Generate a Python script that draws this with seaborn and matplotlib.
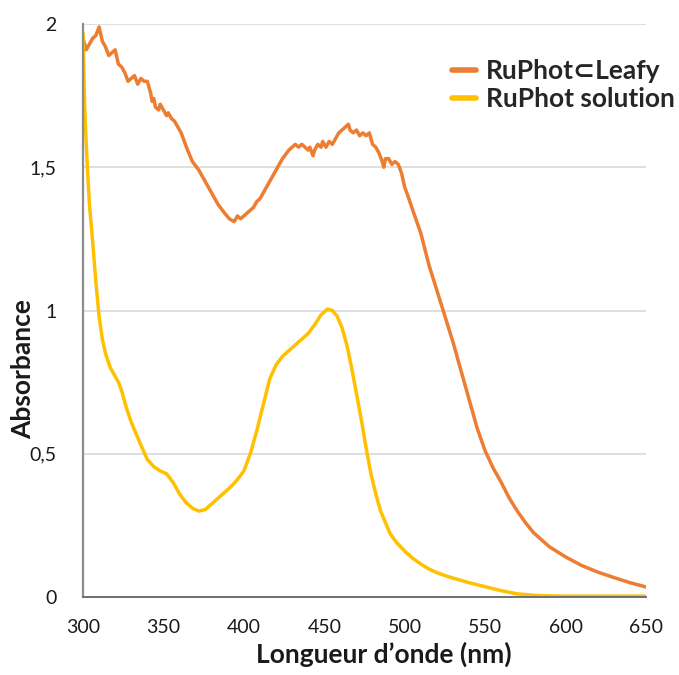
import pandas as pd
import seaborn as sns
import matplotlib.pyplot as plt
from matplotlib.ticker import FuncFormatter

# spectra (wavelength in nm, absorbance)
leafy_wl = [300, 302, 304, 306, 308, 310, 312, 314, 316, 318, 320, 322, 324, 326, 328,
            330, 332, 334, 336, 338, 340, 341, 342, 343, 344, 345, 347, 348, 350, 352,
            353, 355, 357, 359, 361, 363, 365, 368, 372, 376, 380, 384, 388, 391, 394,
            396, 398, 400, 402, 404, 406, 408, 410, 412, 416, 420, 424, 428, 430, 432,
            434, 436, 438, 440, 441, 443, 444, 446, 448, 449, 451, 453, 455, 457, 459,
            461, 463, 465, 466, 468, 470, 472, 474, 476, 478, 480, 482, 484, 486, 487,
            488, 490, 492, 494, 496, 498, 500, 502, 505, 510, 515, 520, 525, 530, 535,
            540, 545, 550, 555, 560, 565, 570, 575, 580, 585, 590, 600, 605, 610, 620,
            630, 640, 650]
leafy_abs = [1.95, 1.91, 1.93, 1.95, 1.96, 1.99, 1.94, 1.92, 1.89, 1.90, 1.91, 1.86,
             1.85, 1.83, 1.80, 1.81, 1.82, 1.79, 1.81, 1.80, 1.80, 1.78, 1.76, 1.73,
             1.74, 1.71, 1.70, 1.72, 1.70, 1.68, 1.69, 1.67, 1.66, 1.64, 1.62, 1.59,
             1.56, 1.52, 1.49, 1.45, 1.41, 1.37, 1.34, 1.32, 1.31, 1.33, 1.32, 1.33,
             1.34, 1.35, 1.36, 1.38, 1.39, 1.41, 1.45, 1.49, 1.53, 1.56, 1.57, 1.58,
             1.57, 1.58, 1.57, 1.56, 1.57, 1.54, 1.56, 1.58, 1.57, 1.59, 1.57, 1.59,
             1.58, 1.60, 1.62, 1.63, 1.64, 1.65, 1.63, 1.62, 1.63, 1.61, 1.62, 1.61,
             1.62, 1.58, 1.57, 1.55, 1.52, 1.50, 1.53, 1.53, 1.51, 1.52, 1.51, 1.48,
             1.43, 1.40, 1.35, 1.27, 1.16, 1.07, 0.98, 0.89, 0.79, 0.69, 0.59, 0.51,
             0.45, 0.40, 0.345, 0.30, 0.26, 0.225, 0.20, 0.175, 0.14, 0.125, 0.11,
             0.087, 0.068, 0.05, 0.035]

sol_wl = [300, 301, 302, 303, 304, 306, 308, 310, 312, 314, 317, 320, 322, 324, 327,
          330, 333, 336, 340, 344, 348, 352, 356, 360, 364, 368, 372, 376, 380, 384,
          388, 392, 396, 400, 404, 408, 412, 416, 420, 424, 428, 432, 436, 440, 444,
          448, 452, 455, 458, 461, 464, 467, 470, 473, 476, 479, 482, 485, 488, 491,
          495, 500, 505, 510, 515, 520, 525, 530, 540, 550, 560, 570, 580, 590, 600,
          650]
sol_abs = [1.97, 1.72, 1.58, 1.47, 1.37, 1.24, 1.10, 0.98, 0.90, 0.85, 0.80, 0.77,
           0.75, 0.72, 0.66, 0.61, 0.57, 0.53, 0.48, 0.455, 0.44, 0.43, 0.40, 0.36,
           0.33, 0.31, 0.30, 0.305, 0.325, 0.345, 0.365, 0.385, 0.41, 0.44, 0.50,
           0.58, 0.67, 0.76, 0.81, 0.84, 0.86, 0.88, 0.90, 0.92, 0.95, 0.985, 1.005,
           1.00, 0.98, 0.94, 0.88, 0.80, 0.71, 0.62, 0.52, 0.43, 0.36, 0.30, 0.26,
           0.22, 0.19, 0.16, 0.135, 0.115, 0.098, 0.085, 0.075, 0.066, 0.050, 0.036,
           0.022, 0.011, 0.006, 0.004, 0.003, 0.003]

series = ['RuPhot\u2282Leafy', 'RuPhot solution']
colors = {'RuPhot\u2282Leafy': '#ED7D31', 'RuPhot solution': '#FFC000'}

df = pd.concat([
    pd.DataFrame({'wl': leafy_wl, 'abs': leafy_abs, 'sample': series[0]}),
    pd.DataFrame({'wl': sol_wl, 'abs': sol_abs, 'sample': series[1]}),
])

sns.set_style('white')
plt.rcParams['font.family'] = ['Lato', 'DejaVu Sans']

fig = plt.figure(figsize=(6.79, 6.75), dpi=100)
ax = fig.add_axes([83 / 679, 1 - 597 / 675, 563 / 679, 573 / 675])

sns.lineplot(data=df, x='wl', y='abs', hue='sample', hue_order=series,
             palette=colors, linewidth=2.5, sort=False, ax=ax)

ax.set_xlim(300, 650)
ax.set_ylim(0, 2)
ax.set_xticks(range(300, 651, 50))
ax.set_yticks([0, 0.5, 1, 1.5, 2])
ax.yaxis.set_major_formatter(FuncFormatter(lambda v, p: ('%g' % v).replace('.', ',')))
ax.tick_params(axis='both', length=0, labelsize=14, colors='#1a1a1a')
ax.tick_params(axis='y', pad=19)
ax.tick_params(axis='x', pad=16)

ax.grid(axis='y', color='#d9d9d9', linewidth=1.2)
ax.grid(axis='x', visible=False)
for s in ['top', 'right']:
    ax.spines[s].set_visible(False)
ax.spines['left'].set_color('#8c8c8c')
ax.spines['left'].set_linewidth(1.6)
ax.spines['bottom'].set_color('#6e6e6e')
ax.spines['bottom'].set_linewidth(1.4)

ax.set_xlabel("Longueur d\u2019onde (nm)", fontsize=19, fontweight='bold', color='#1a1a1a')
ax.set_ylabel('Absorbance', fontsize=19, fontweight='bold', color='#1a1a1a')
ax.xaxis.set_label_coords(0.534, -0.078)
ax.yaxis.set_label_coords(-0.085, 0.398)

leg = ax.legend(loc='center left', bbox_to_anchor=(452 / 679, 1 - 85 / 675),
                bbox_transform=fig.transFigure, frameon=False, handlelength=0.9,
                handletextpad=0.4, labelspacing=0.15, borderaxespad=0, borderpad=0,
                prop={'size': 19, 'weight': 'bold'})
for h in leg.get_lines():
    h.set_linewidth(4)

fig.savefig('out.png', dpi=100)
